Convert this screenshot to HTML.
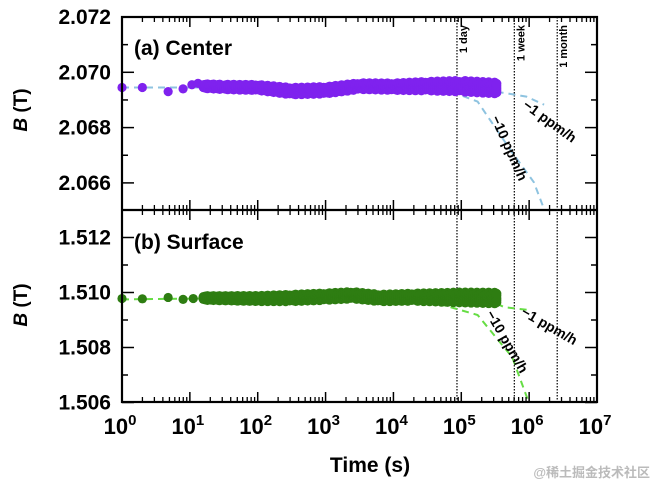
<!DOCTYPE html>
<html><head><meta charset="utf-8"><style>
body{margin:0;background:#fff}
svg text{font-family:"Liberation Sans","Noto Sans CJK SC",sans-serif;font-weight:bold}
</style></head><body>
<svg id="chart" width="655" height="485" viewBox="0 0 655 485" xmlns="http://www.w3.org/2000/svg"></svg>
<script>
// ---- data ----
const xTickExps = [0,1,2,3,4,5,6,7];
const topTicks = [2.066,2.068,2.070,2.072];
const botTicks = [1.506,1.508,1.510,1.512];
const centerEarly = [[0,2.06945],[0.3,2.06945],[0.68,2.0693],[0.9,2.0694],[1.03,2.06955],[1.12,2.0696]];
const centerBand = [[1.2,2.0695,0.00006],[1.5,2.06947,0.00007],[2.0,2.06945,0.00008],[2.5,2.06932,0.0001],[3.0,2.06935,0.0001],[3.5,2.0695,0.00009],[4.0,2.06948,0.0001],[4.5,2.0695,0.00013],[5.0,2.0695,0.00016],[5.52,2.06943,0.00016]];
const surfEarly = [[0,1.50978],[0.3,1.50977],[0.68,1.50982],[0.9,1.50975],[1.05,1.50978]];
const surfBand = [[1.2,1.5098,0.00006],[2.0,1.50978,0.00008],[2.5,1.5098,0.0001],[3.0,1.50985,0.0001],[3.4,1.5099,0.0001],[3.8,1.5098,0.0001],[4.3,1.50983,0.00011],[5.0,1.50982,0.00015],[5.52,1.5098,0.00016]];
const centerFit = [[0,2.06945],[1,2.06945],[3,2.06945],[4.5,2.0694]];
const center10 = [[4.5,2.0694],[4.97,2.06919],[5.24,2.06894],[5.75,2.0671],[6.07,2.06602],[6.22,2.06505]];
const center1 = [[5.52,2.0693],[5.96,2.06912],[6.22,2.06883]];
const surfFit = [[0,1.50975],[1,1.50978],[3,1.5098],[4.5,1.5097]];
const surf10 = [[4.5,1.5097],[4.78,1.50951],[5.24,1.50918],[5.75,1.50765],[6.0,1.50597]];
const surf1 = [[5.52,1.5096],[5.63,1.50947],[6.0,1.50936]];
const markers = [["1 day",86400],["1 week",604800],["1 month",2592000]];
// ---- layout ----
const L=122,R=597,T=17,M=210,B=402;
const X=l=>L+(R-L)*l/7;
const YT=v=>T+(2.072-v)/0.002*55.3;
const YB=v=>M+(1.513-v)/0.002*55;
const svg=document.getElementById('chart');
const NS='http://www.w3.org/2000/svg';
function mk(tag,attrs,parent){const e=document.createElementNS(NS,tag);for(const k in attrs)e.setAttribute(k,attrs[k]);(parent||svg).appendChild(e);return e;}
function line(x1,y1,x2,y2,st,w,dash,name){const e=mk('line',{x1,y1,x2,y2,stroke:st,'stroke-width':w});if(dash)e.setAttribute('stroke-dasharray',dash);

return e;}
function txt(x,y,s,size,anchor,name,extra){const e=mk('text',Object.assign({x,y,'font-size':size,'text-anchor':anchor||'start'},extra||{}));e.textContent=s;

return e;}
// vertical time markers
markers.forEach(m=>{const x=X(Math.log10(m[1]));line(x,T,x,B,'#000',1.2,'1.5,1.5','marker-line');
txt(x+10,T+8,m[0],11,'end','marker-label',{transform:`rotate(-90 ${x+10} ${T+8})`,'font-weight':'normal'});});
function scatter(early,band,Y,col,name){
 const g=mk('g',{});
 early.forEach(p=>{const c=mk('circle',{cx:X(p[0]),cy:Y(p[1]),r:4.6,fill:col},g);});
 for(let i=0;i<band.length-1;i++){const a=band[i],b=band[i+1];const n=Math.max(2,Math.round((X(b[0])-X(a[0]))/2));
  for(let k=0;k<n;k++){const f=k/n;const l=a[0]+(b[0]-a[0])*f;const m=a[1]+(b[1]-a[1])*f;const h=a[2]+(b[2]-a[2])*f;
   [-1,-0.5,0,0.5,1].forEach(o=>{const c=mk('circle',{cx:X(l),cy:Y(m+o*h*((k%3)/4+0.75)),r:4.8,fill:col},g);});}}
 const e=band[band.length-1];[-1,-0.5,0,0.5,1].forEach(o=>{const c=mk('circle',{cx:X(e[0]),cy:Y(e[1]+o*e[2]),r:4.8,fill:col},g);});
}
const defs=mk('defs',{});
const c1=mk('clipPath',{id:'ct'},defs);mk('rect',{x:L,y:T,width:R-L,height:M-T},c1);
const c2=mk('clipPath',{id:'cb'},defs);mk('rect',{x:L,y:M,width:R-L,height:B-M},c2);
const gt=mk('g',{'clip-path':'url(#ct)'});const gb=mk('g',{'clip-path':'url(#cb)'});
function cp(pts,Y,g,col,name){const d=pts.map((p,i)=>(i?'L':'M')+X(p[0]).toFixed(1)+','+Y(p[1]).toFixed(1)).join('');const e=mk('path',{d,fill:'none',stroke:col,'stroke-width':2,'stroke-dasharray':'7,5'},g);}
cp(centerFit,YT,gt,'#8ec3e0','center-fit-line');cp(center10,YT,gt,'#8ec3e0','center-10ppm-line');cp(center1,YT,gt,'#8ec3e0','center-1ppm-line');
cp(surfFit,YB,gb,'#66dd44','surface-fit-line');cp(surf10,YB,gb,'#66dd44','surface-10ppm-line');cp(surf1,YB,gb,'#66dd44','surface-1ppm-line');
scatter(centerEarly,centerBand,YT,'#7f22ee','center-series');
scatter(surfEarly,surfBand,YB,'#2e7d12','surface-series');
// frame
mk('rect',{x:L,y:T,width:R-L,height:B-T,fill:'none',stroke:'#000','stroke-width':2.2});
line(L,M,R,M,'#000',2.2,null,'panel-divider');
// x ticks
[T,M,B].forEach(yy=>{xTickExps.forEach(e=>{
 if(e<7){for(let k=2;k<10;k++){const x=X(e+Math.log10(k));if(yy!==T)line(x,yy,x,yy-5,'#000',1.3,null,'x-minor-tick');if(yy!==B)line(x,yy,x,yy+5,'#000',1.3,null,'x-minor-tick');}}
 const x=X(e);if(yy!==T)line(x,yy,x,yy-10,'#000',1.5,null,'x-major-tick');if(yy!==B)line(x,yy,x,yy+10,'#000',1.5,null,'x-major-tick');});});
xTickExps.forEach(e=>{const t=txt(X(e)-2,B+32,'10',22,'middle','x-tick-label');const s=mk('tspan',{dy:-9,'font-size':15},t);s.textContent=e;});
// y ticks
function yt(ticks,Y,name){ticks.forEach((v,i)=>{const y=Y(v);[[L,1],[R,-1]].forEach(([x0,d])=>{line(x0,y,x0+d*12,y,'#000',1.5,null,'y-major-tick');
 if(i<ticks.length-1){const ym=Y(v+0.001);line(x0,ym,x0+d*6,ym,'#000',1.5,null,'y-minor-tick');}});
 txt(111,y+7,v.toFixed(3),21,'end',name);});}
yt(topTicks,YT,'center-y-tick-label');yt(botTicks,YB,'surface-y-tick-label');
// labels
txt(134,55,'(a) Center',21,'start','panel-a-label');
txt(134,249,'(b) Surface',21,'start','panel-b-label');
function ylab(cy,name){const t=txt(27,cy,'',19,'middle',name,{transform:`rotate(-90 27 ${cy})`});const a=mk('tspan',{'font-style':'italic'},t);a.textContent='B';const b=mk('tspan',{},t);b.textContent=' (T)';}
ylab(110,'center-y-axis-title');ylab(305,'surface-y-axis-title');
txt(370,472,'Time (s)',21,'middle','x-axis-title');
txt(505,150,'−10 ppm/h',14,'middle','center-10ppm-label',{transform:'rotate(66 505 150)'});
txt(547,125,'−1 ppm/h',14,'middle','center-1ppm-label',{transform:'rotate(36 547 125)'});
txt(503,344,'−10 ppm/h',14,'middle','surface-10ppm-label',{transform:'rotate(60 503 344)'});
txt(547,330,'−1 ppm/h',14,'middle','surface-1ppm-label',{transform:'rotate(30 547 330)'});
txt(650,477,'@稀土掘金技术社区',13,'end','watermark',{fill:'#bbb','font-weight':'normal'});
</script>
</body></html>
